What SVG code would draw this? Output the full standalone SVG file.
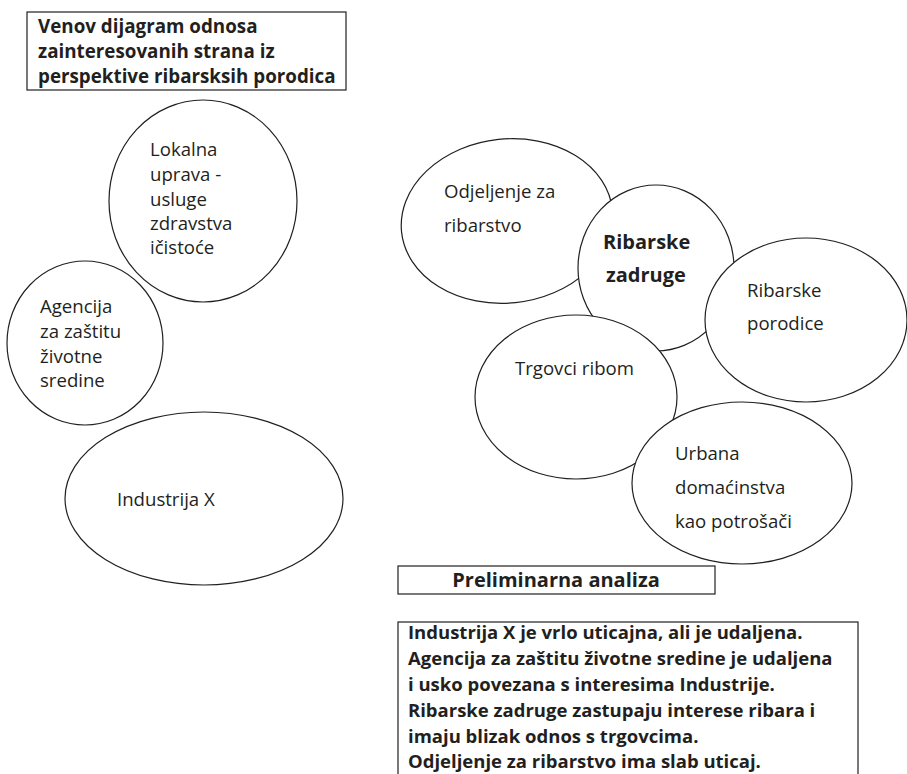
<svg xmlns="http://www.w3.org/2000/svg" width="907" height="774" viewBox="0 0 907 774">
<style>
  .bg { fill: #ffffff; }
  .shape { fill: #ffffff; stroke: #231f20; stroke-width: 1.2; }
  .box { fill: #ffffff; stroke: #231f20; stroke-width: 1.2; }
  .t { font-family: "Open Sans", "Liberation Sans", sans-serif; font-size: 18.6px; fill: #231f20; }
  .b { font-family: "Open Sans", "Liberation Sans", sans-serif; font-size: 18.5px; font-weight: bold; fill: #231f20; }
  .bl { font-size: 20px; }
  .bt { font-size: 18.8px; }
</style>
<rect class="bg" x="0" y="0" width="907" height="774"/>

<g id="title">
  <rect class="box" x="27" y="12" width="319" height="78"/>
  <text class="b bt" x="38" y="33">Venov dijagram odnosa</text>
  <text class="b bt" x="38" y="58">zainteresovanih strana iz</text>
  <text class="b bt" x="38" y="83">perspektive ribarsksih porodica</text>
</g>

<g id="lokalna-uprava">
  <ellipse class="shape" cx="203" cy="201" rx="94" ry="101"/>
  <text class="t" x="150" y="156">Lokalna</text>
  <text class="t" x="150" y="181">uprava -</text>
  <text class="t" x="150" y="206">usluge</text>
  <text class="t" x="150" y="230">zdravstva</text>
  <text class="t" x="150" y="254">ičistoće</text>
</g>

<g id="agencija">
  <ellipse class="shape" cx="85" cy="343" rx="78" ry="82"/>
  <text class="t" x="40" y="313">Agencija</text>
  <text class="t" x="40" y="338">za zaštitu</text>
  <text class="t" x="40" y="363">životne</text>
  <text class="t" x="40" y="387">sredine</text>
</g>

<g id="industrija-x">
  <ellipse class="shape" cx="204" cy="498.5" rx="139" ry="86.5"/>
  <text class="t" x="117" y="506">Industrija X</text>
</g>

<g id="odjeljenje">
  <ellipse class="shape" cx="507" cy="221" rx="106" ry="82" transform="rotate(-6 507 221)"/>
  <text class="t" x="444" y="198">Odjeljenje za</text>
  <text class="t" x="444" y="232">ribarstvo</text>
</g>

<g id="ribarske-zadruge">
  <ellipse class="shape" cx="656" cy="268" rx="78" ry="83"/>
  <text class="b bl" x="603" y="249">Ribarske</text>
  <text class="b bl" x="606" y="282">zadruge</text>
</g>

<g id="ribarske-porodice">
  <ellipse class="shape" cx="806" cy="320" rx="101" ry="82"/>
  <text class="t" x="747" y="297">Ribarske</text>
  <text class="t" x="747" y="330">porodice</text>
</g>

<g id="trgovci-ribom">
  <ellipse class="shape" cx="576" cy="397" rx="101" ry="82"/>
  <text class="t" x="515" y="375">Trgovci ribom</text>
</g>

<g id="urbana-domacinstva">
  <ellipse class="shape" cx="742" cy="483" rx="110" ry="81"/>
  <text class="t" x="675" y="460">Urbana</text>
  <text class="t" x="675" y="494">domaćinstva</text>
  <text class="t" x="675" y="528">kao potrošači</text>
</g>

<g id="preliminarna-analiza">
  <rect class="box" x="398" y="566" width="317" height="28"/>
  <text class="b bl" x="556" y="587" text-anchor="middle">Preliminarna analiza</text>
</g>

<g id="analiza-tekst">
  <rect class="box" x="398" y="622" width="460" height="170"/>
  <text class="b" x="408" y="639">Industrija X je vrlo uticajna, ali je udaljena.</text>
  <text class="b" x="408" y="665">Agencija za zaštitu životne sredine je udaljena</text>
  <text class="b" x="408" y="691">i usko povezana s interesima Industrije.</text>
  <text class="b" x="408" y="717">Ribarske zadruge zastupaju interese ribara i</text>
  <text class="b" x="408" y="743">imaju blizak odnos s trgovcima.</text>
  <text class="b" x="408" y="768">Odjeljenje za ribarstvo ima slab uticaj.</text>
</g>

<g id="connectors"></g>
</svg>
